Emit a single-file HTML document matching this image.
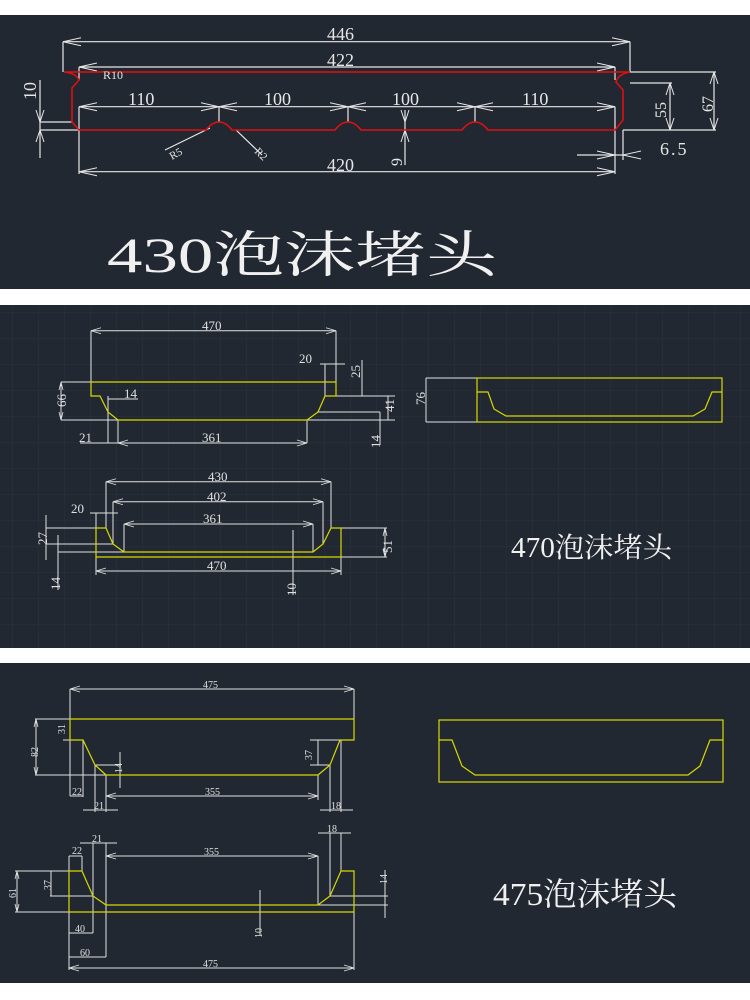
<!DOCTYPE html>
<html><head><meta charset="utf-8"><style>
html,body{margin:0;padding:0;background:#fff;}
svg{display:block}
</style></head><body>
<svg width="750" height="1000" viewBox="0 0 750 1000" xmlns="http://www.w3.org/2000/svg">
<defs>
<pattern id="g" x="12" y="0" width="26" height="26" patternUnits="userSpaceOnUse">
<path d="M0 0V26M0 0H26" stroke="#2b323d" stroke-width="1" fill="none"/>
</pattern>
</defs>
<rect width="750" height="1000" fill="#fff"/>
<rect x="0" y="15" width="750" height="274" fill="#222831"/>
<rect x="0" y="305" width="750" height="343" fill="#222831"/>
<rect x="0" y="305" width="750" height="343" fill="url(#g)"/>
<rect x="0" y="663" width="750" height="320" fill="#222831"/>

<!-- PANEL 1 -->
<g stroke="#e6e6e6" stroke-width="1.2" fill="none">
<path d="M63 41.7H630M63 41.7V72M630 41.7V72"/>
<path d="M79 67H615M79 67V80M615 67V80"/>
<path d="M79 106.7H615M79 106.7V174M615 106.7V174M79 171.7H615"/>
<path d="M219 106.7V122M348 106.7V122M475 106.7V122"/>
<path d="M40 80V158M40 122H72M40 130H79"/>
<path d="M405 110V165"/>
<path d="M630 72H716M630 83H672M623 130H716M670 83V130M714 72V130"/>
<path d="M577 155H625M623 130V160"/>
<path d="M210 128L165 150M236 130L262 155"/>
</g>
<g stroke="#e6e6e6" stroke-width="1" fill="none">
<path d="M63 41.7l18 -4M63 41.7l18 4M630 41.7l-18 -4M630 41.7l-18 4"/>
<path d="M79 67l18 -4M79 67l18 4M615 67l-18 -4M615 67l-18 4"/>
<path d="M79 106.7l18 -4M79 106.7l18 4M615 106.7l-18 -4M615 106.7l-18 4"/>
<path d="M219 106.7l-18 -4M219 106.7l-18 4M219 106.7l18 -4M219 106.7l18 4M348 106.7l-18 -4M348 106.7l-18 4M348 106.7l18 -4M348 106.7l18 4M475 106.7l-18 -4M475 106.7l-18 4M475 106.7l18 -4M475 106.7l18 4"/>
<path d="M79 171.7l18 -4M79 171.7l18 4M615 171.7l-18 -4M615 171.7l-18 4"/>
<path d="M670 83l-4 12M670 83l4 12M670 130l-4 -12M670 130l4 -12M714 72l-4 12M714 72l4 12M714 130l-4 -12M714 130l4 -12"/>
<path d="M40 122l-4 -12M40 122l4 -12M40 130l-4 12M40 130l4 12"/>
<path d="M405 122l-4 -12M405 122l4 -12M405 130l-4 12M405 130l4 12"/>
<path d="M615 155l-18 -4M615 155l-18 4M623 155l18 -4M623 155l18 4"/>
</g>
<path d="M64 72H630Q618 74 616 82L623 90V120L615 130H488Q482 122 475 122Q468 122 462 130H361Q355 122 348 122Q341 122 335 130H232Q226 122 219 122Q212 122 206 130H79L72 122V88L79 80Q76 73 64 72Z" stroke="#e01010" stroke-width="1.6" fill="none"/>
<g fill="#e6e6e6" font-family="Liberation Serif, serif" font-size="18">
<text x="327" y="40">446</text>
<text x="327" y="66">422</text>
<text x="128" y="105">110</text>
<text x="264" y="105">100</text>
<text x="392" y="105">100</text>
<text x="522" y="105">110</text>
<text x="327" y="171">420</text>
<text x="660" y="155" letter-spacing="2">6.5</text>
<text x="103" y="79" font-size="12">R10</text>
<text transform="translate(36,100) rotate(-90)">10</text>
<text transform="translate(402,166) rotate(-90)" font-size="16">9</text>
<text transform="translate(666,118) rotate(-90)" font-size="16">55</text>
<text transform="translate(713,112) rotate(-90)" font-size="16">67</text>
<text transform="translate(172,160) rotate(-30)" font-size="11">R5</text>
<text transform="translate(254,152) rotate(45)" font-size="11">R2</text>
</g>
<text x="107" y="272" font-family="Liberation Serif, 'Noto Serif CJK SC', serif" font-size="50" fill="#f0f0f0" textLength="390" lengthAdjust="spacingAndGlyphs">430泡沫堵头</text>

<!-- PANEL 2 -->
<g stroke="#e0e0e0" stroke-width="1" fill="none">
<path d="M91 330.7H336M91 330.7V382M336 330.7V396"/>
<path d="M61 382H91M61 420H118M61 382V420"/>
<path d="M325 396H395M318 412H380M307 420H395M388 396V420M380 412V445"/>
<path d="M362 360V396M320 364H345M325 364V396"/>
<path d="M80 443H307M108 396V443M118 420V443M307 420V443M108 399H138"/>
<path d="M106 481.7H331M106 481.7V528M331 481.7V528"/>
<path d="M113 501.7H323M113 501.7V544M323 501.7V544"/>
<path d="M124 524H313M124 524V552M313 524V552"/>
<path d="M96 571H341M96 557V575M341 557V575"/>
<path d="M341 528H387M341 557H387M385 528V557"/>
<path d="M46 528H106M46 544H113M58 552H124M46 515V560M58 535V590"/>
<path d="M90 513H118M96 513V528"/>
<path d="M293 530V595"/>
<path d="M426 378H477M426 422H477M426 378V422"/>
</g>
<g stroke="#e0e0e0" stroke-width="0.8" fill="none">
<path d="M91 330.7l10 -3M91 330.7l10 3M336 330.7l-10 -3M336 330.7l-10 3"/>
<path d="M106 481.7l10 -3M106 481.7l10 3M331 481.7l-10 -3M331 481.7l-10 3M113 501.7l10 -3M113 501.7l10 3M323 501.7l-10 -3M323 501.7l-10 3M124 524l10 -3M124 524l10 3M313 524l-10 -3M313 524l-10 3M96 571l10 -3M96 571l10 3M341 571l-10 -3M341 571l-10 3"/>
<path d="M307 443l-10 -3M307 443l-10 3M118 443l10 -3M118 443l10 3"/>
<path d="M61 382l-2 8M61 382l2 8M61 420l-2 -8M61 420l2 -8M385 528l-2 8M385 528l2 8M385 557l-2 -8M385 557l2 -8"/>
</g>
<path d="M91 382H336V396H325L318 412L307 420H118L108 412L100 396H91Z" stroke="#d8d800" stroke-width="1.2" fill="none"/>
<path d="M96 528H106L113 544L124 552H313L323 544L331 528H341V557H96Z" stroke="#d8d800" stroke-width="1.2" fill="none"/>
<rect x="477" y="378" width="245" height="44" stroke="#d8d800" stroke-width="1.2" fill="none"/>
<path d="M477 392H488L494 409L506 416H693L705 409L712 392H722" stroke="#d8d800" stroke-width="1.2" fill="none"/>
<g fill="#e0e0e0" font-family="Liberation Serif, serif" font-size="13">
<text x="202" y="330">470</text>
<text x="299" y="363">20</text>
<text x="124" y="398">14</text>
<text x="79" y="442">21</text>
<text x="202" y="442">361</text>
<text x="208" y="481">430</text>
<text x="207" y="501">402</text>
<text x="203" y="523">361</text>
<text x="71" y="513">20</text>
<text x="207" y="570">470</text>
<text transform="translate(66,407) rotate(-90)">66</text>
<text transform="translate(360,378) rotate(-90)">25</text>
<text transform="translate(394,412) rotate(-90)">41</text>
<text transform="translate(380,448) rotate(-90)">14</text>
<text transform="translate(47,545) rotate(-90)">27</text>
<text transform="translate(60,590) rotate(-90)">14</text>
<text transform="translate(296,596) rotate(-90)">10</text>
<text transform="translate(392,553) rotate(-90)">51</text>
<text transform="translate(425,405) rotate(-90)">76</text>
</g>
<text x="511" y="557" font-family="Liberation Serif, 'Noto Serif CJK SC', serif" font-size="28" fill="#f0f0f0" textLength="161" lengthAdjust="spacingAndGlyphs">470泡沫堵头</text>

<!-- PANEL 3 -->
<g stroke="#e0e0e0" stroke-width="1" fill="none">
<path d="M70 689H354M70 689V796M354 689V740"/>
<path d="M35 719H70M35 775H106M36 719V775M63 740H83"/>
<path d="M310 740H340M310 765H330M318 740V765"/>
<path d="M106 775H128M120 752V788M95 765H120"/>
<path d="M70 796H83M83 740V797M83 810H118M95 765V812M106 775V812M106 796H318M318 775V800"/>
<path d="M320 810H353M330 765V812M341 740V812"/>
<path d="M69 856V970M82 856V871M80 843H117M93 843V933M106 843V957M69 856H82M106 856H318M318 856V905"/>
<path d="M318 833H351M330 833V896M341 833V871"/>
<path d="M69 968H354M354 912V970M69 957H106M69 933H93"/>
<path d="M15 871H82M15 912H69M17 871V912M50 896H93M51 871V896"/>
<path d="M330 896H388M318 905H388M385 870V918"/>
<path d="M260 890V935"/>
</g>
<g stroke="#e0e0e0" stroke-width="0.8" fill="none">
<path d="M70 689l10 -3M70 689l10 3M354 689l-10 -3M354 689l-10 3M69 968l10 -3M69 968l10 3M354 968l-10 -3M354 968l-10 3M106 856l10 -3M106 856l10 3M318 856l-10 -3M318 856l-10 3M106 796l10 -3M106 796l10 3M318 796l-10 -3M318 796l-10 3"/>
<path d="M36 719l-2 8M36 719l2 8M36 775l-2 -8M36 775l2 -8M17 871l-2 8M17 871l2 8M17 912l-2 -8M17 912l2 -8"/>
</g>
<path d="M70 719H354V740H340L330 765L318 775H106L95 765L83 740H70Z" stroke="#d8d800" stroke-width="1.2" fill="none"/>
<path d="M69 871H82L93 896L106 905H318L330 896L341 871H354V912H69Z" stroke="#d8d800" stroke-width="1.2" fill="none"/>
<rect x="439" y="720" width="284" height="62" stroke="#d8d800" stroke-width="1.2" fill="none"/>
<path d="M439 740H452L462 766L475 775H688L700 766L710 740H723" stroke="#d8d800" stroke-width="1.2" fill="none"/>
<g fill="#e0e0e0" font-family="Liberation Serif, serif" font-size="10">
<text x="203" y="688">475</text>
<text x="205" y="795">355</text>
<text x="72" y="795">22</text>
<text x="94" y="809">21</text>
<text x="331" y="809">18</text>
<text x="204" y="855">355</text>
<text x="72" y="854">22</text>
<text x="92" y="842">21</text>
<text x="327" y="832">18</text>
<text x="75" y="932">40</text>
<text x="80" y="956">60</text>
<text x="203" y="967">475</text>
<text transform="translate(38,757) rotate(-90)">82</text>
<text transform="translate(65,734) rotate(-90)">31</text>
<text transform="translate(312,760) rotate(-90)">37</text>
<text transform="translate(122,773) rotate(-90)">14</text>
<text transform="translate(16,898) rotate(-90)">61</text>
<text transform="translate(51,890) rotate(-90)">37</text>
<text transform="translate(387,884) rotate(-90)">14</text>
<text transform="translate(262,938) rotate(-90)">10</text>
</g>
<text x="493" y="905" font-family="Liberation Serif, 'Noto Serif CJK SC', serif" font-size="32" fill="#f0f0f0" textLength="184" lengthAdjust="spacingAndGlyphs">475泡沫堵头</text>
</svg>
</body></html>
